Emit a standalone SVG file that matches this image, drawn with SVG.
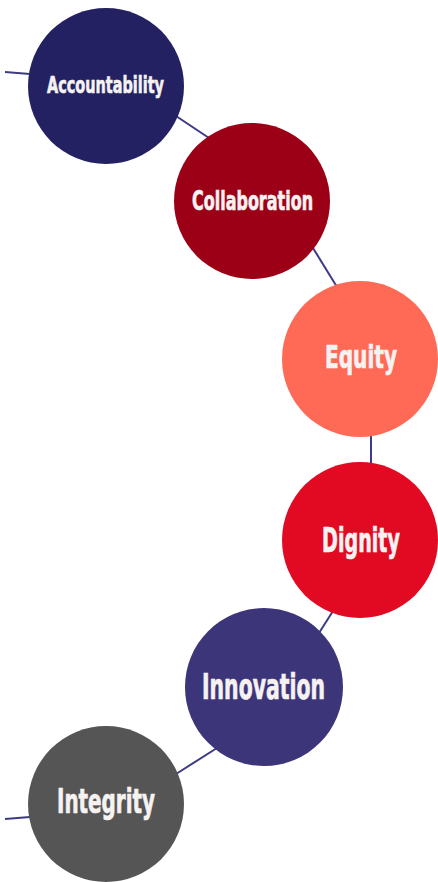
<svg xmlns="http://www.w3.org/2000/svg" width="438" height="882" viewBox="0 0 438 882">
  <style>
    .link { stroke: #3c3a86; stroke-width: 2; fill: none; stroke-linecap: butt; }
    .label { font-family: "Liberation Sans Narrow", "DejaVu Sans Condensed", "Liberation Sans", sans-serif; font-weight: bold; fill: #f6f2f2; stroke: #f6f2f2; stroke-width: 0.5; text-anchor: middle; }
  </style>
  <rect width="438" height="882" fill="#ffffff"/>

  <!-- connectors between the value circles -->
  <g id="connectors">
    <line class="link" x1="5" y1="72" x2="30" y2="74"/>
    <line class="link" x1="176" y1="116" x2="209" y2="138"/>
    <line class="link" x1="313" y1="248" x2="337" y2="287"/>
    <line class="link" x1="371" y1="435" x2="371" y2="464"/>
    <line class="link" x1="333" y1="611" x2="319" y2="633"/>
    <line class="link" x1="217" y1="748" x2="176" y2="774"/>
    <line class="link" x1="30" y1="817" x2="5" y2="819"/>
  </g>

  <!-- labels are set in a tall condensed face: narrow glyphs stretched vertically -->
  <g id="node-accountability">
    <circle cx="106" cy="86" r="78" fill="#232162"/>
    <text class="label" transform="translate(105.5 93) scale(1 1.29)" font-size="18" textLength="117" lengthAdjust="spacingAndGlyphs">Accountability</text>
  </g>

  <g id="node-collaboration">
    <circle cx="252" cy="201" r="78" fill="#9b0016"/>
    <text class="label" transform="translate(252.5 210) scale(1 1.37)" font-size="20" textLength="121" lengthAdjust="spacingAndGlyphs">Collaboration</text>
  </g>

  <g id="node-equity">
    <circle cx="360" cy="359" r="78" fill="#ff6a56"/>
    <text class="label" transform="translate(361 368) scale(1 1.43)" font-size="22" textLength="72" lengthAdjust="spacingAndGlyphs">Equity</text>
  </g>

  <g id="node-dignity">
    <circle cx="360" cy="540" r="78" fill="#e10a22"/>
    <text class="label" transform="translate(361 552) scale(1 1.43)" font-size="24" textLength="78" lengthAdjust="spacingAndGlyphs">Dignity</text>
  </g>

  <g id="node-innovation">
    <circle cx="264" cy="687" r="79" fill="#3d3579"/>
    <text class="label" transform="translate(263.5 699) scale(1 1.42)" font-size="25" textLength="123" lengthAdjust="spacingAndGlyphs">Innovation</text>
  </g>

  <g id="node-integrity">
    <circle cx="106" cy="804" r="78" fill="#555555"/>
    <text class="label" transform="translate(106 813) scale(1 1.37)" font-size="24" textLength="98" lengthAdjust="spacingAndGlyphs">Integrity</text>
  </g>
</svg>
